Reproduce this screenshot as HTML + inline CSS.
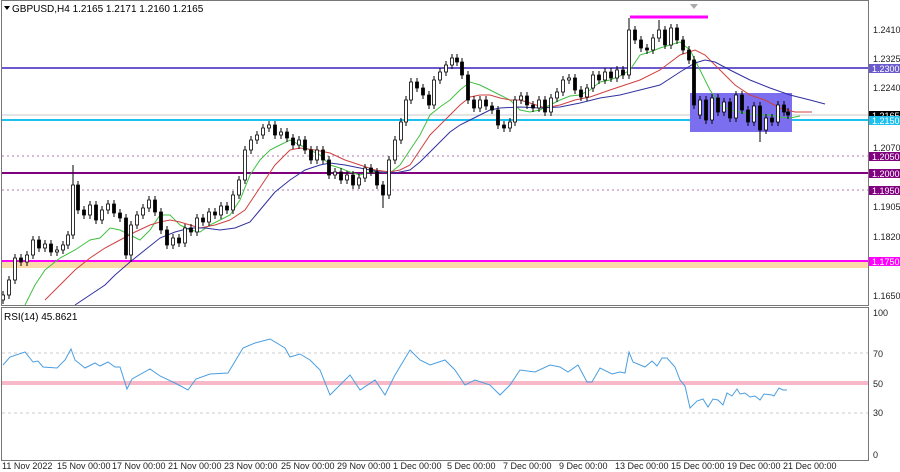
<!DOCTYPE html>
<html><head><meta charset="utf-8"><style>
html,body{margin:0;padding:0;background:#fff;}
svg{display:block;font-family:"Liberation Sans",sans-serif;}
</style></head><body>
<svg width="900" height="472" viewBox="0 0 900 472" xmlns="http://www.w3.org/2000/svg">
<rect width="900" height="472" fill="#fff"/>
<rect x="2" y="262" width="866" height="6" fill="#fbd9a8"/>
<line x1="2" y1="68" x2="868" y2="68" stroke="#6a5acd" stroke-width="2"/>
<line x1="2" y1="115" x2="868" y2="115" stroke="#c8c8c8" stroke-width="1"/>
<line x1="2" y1="120" x2="868" y2="120" stroke="#1ec0f0" stroke-width="2"/>
<line x1="2" y1="156" x2="868" y2="156" stroke="#b07ab0" stroke-width="1" stroke-dasharray="2,3"/>
<line x1="2" y1="173" x2="868" y2="173" stroke="#800080" stroke-width="2"/>
<line x1="2" y1="190" x2="868" y2="190" stroke="#b07ab0" stroke-width="1" stroke-dasharray="2,3"/>
<line x1="2" y1="261" x2="868" y2="261" stroke="#ff00ff" stroke-width="2"/>
<rect x="690" y="93" width="102" height="39" fill="#7b6ff0"/>
<line x1="630" y1="17" x2="708" y2="17" stroke="#ff00ff" stroke-width="3"/>
<polygon points="690,4 698,4 694,9" fill="#aaa"/>

<polyline fill="none" stroke="#40c040" stroke-width="1" points="25,305 35,285 45,270 60,258 75,250 90,240 100,238 110,228 120,230 130,235 140,240 150,230 160,215 170,215 180,225 190,230 200,232 210,225 220,220 230,215 240,200 250,175 260,160 270,150 280,145 290,140 300,145 310,150 320,155 330,165 340,168 350,172 360,175 370,172 380,172 390,173 400,165 410,150 420,135 430,115 440,107 450,100 460,90 470,82 480,85 490,90 500,95 510,100 520,110 530,112 540,110 550,105 560,100 570,96 580,95 590,90 600,82 610,80 620,76 630,70 640,55 650,52 660,48 670,45 680,42 690,50 700,70 710,90 720,105 730,110 740,112 750,114 760,115 770,115 780,117 790,118 800,116"/>
<polyline fill="none" stroke="#d04040" stroke-width="1" points="45,300 60,285 75,270 90,258 105,248 120,240 135,232 150,225 160,222 170,220 180,222 190,225 200,228 215,225 230,220 245,210 255,195 265,180 275,165 290,150 300,148 315,150 330,153 345,160 360,165 375,170 390,172 400,170 410,165 420,150 430,135 440,125 450,115 460,105 470,97 480,95 490,95 500,98 510,100 520,100 530,103 545,108 560,105 575,100 590,97 610,90 625,85 640,80 660,70 680,55 695,50 705,55 720,70 735,85 750,95 765,100 780,108 795,112 812,112"/>
<polyline fill="none" stroke="#3030a0" stroke-width="1" points="75,305 90,295 105,285 115,275 130,262 145,250 160,238 175,232 190,228 205,228 220,230 235,228 250,222 260,210 275,192 290,180 305,170 320,165 330,163 345,165 360,168 380,172 395,173 410,170 420,162 430,152 440,142 450,132 460,125 470,120 480,115 490,110 500,108 520,107 540,108 560,107 580,103 600,98 620,95 640,90 660,85 680,72 695,63 705,60 715,62 730,70 750,80 770,88 790,95 810,100 825,104"/>

<!-- wicks -->
<path fill="none" stroke="#000" stroke-width="1" d="M3 291V304M9 276V299M15 254V284M21 254V266M27 251V266M33 236V259M39 236V252M45 240V252M51 240V256M57 246V256M63 241V254M68 231V249M73 165V239M78 181V214M84 206V219M90 201V219M96 201V224M102 206V224M108 200V214M114 200V217M120 209V222M126 214V259M131 221V262M137 211V229M143 204V219M149 196V212M155 196V216M161 208V234M167 226V249M173 234V249M179 234V247M185 224V247M191 224V236M197 214V236M203 214V226M209 208V226M215 208V219M221 202V219M227 202V214M233 191V214M239 176V199M245 146V184M251 136V154M257 131V144M263 124V139M269 121V132M275 121V139M281 128V139M287 128V142M293 134V149M299 136V149M305 136V154M311 146V164M317 146V164M323 146V164M329 156V179M335 168V179M341 168V184M347 171V184M353 171V189M359 174V189M365 164V182M371 164V176M377 168V189M383 181V208M389 156V199M395 136V164M401 118V144M406 96V126M411 78V104M417 78V92M423 84V99M429 91V109M434 76V109M440 68V84M446 61V76M452 54V69M457 54V66M462 58V79M468 71V104M474 96V112M480 96V112M486 96V110M492 102V114M498 106V129M504 121V132M510 118V132M515 96V126M521 92V104M527 92V109M533 101V112M539 96V112M545 96V116M551 94V116M557 88V102M563 76V96M569 74V84M575 74V94M581 86V101M587 84V101M593 71V92M599 71V84M605 68V84M611 68V82M617 66V82M623 66V79M629 18V79M635 26V44M641 36V52M647 44V54M653 34V54M659 20V42M665 26V49M671 24V49M677 24V44M683 36V54M689 46V64M694 56V109M700 96V119M706 96V124M712 94V124M718 94V116M724 98V116M730 98V122M736 91V122M742 91V114M748 106V126M754 102V126M760 102V142M766 114V134M772 114V126M778 101V126M784 101V116M788 108V119"/>
<!-- bull (white) bodies -->
<path fill="#fff" stroke="#000" stroke-width="0.8" d="M1.5 295h3V300h-3ZM7.5 280h3V295h-3ZM13.5 258h3V280h-3ZM25.5 255h3V262h-3ZM31.5 240h3V255h-3ZM43.5 244h3V248h-3ZM55.5 250h3V252h-3ZM61.5 245h3V250h-3ZM66.5 235h3V245h-3ZM71.5 185h3V235h-3ZM88.5 205h3V215h-3ZM100.5 210h3V220h-3ZM106.5 204h3V210h-3ZM129.5 225h3V255h-3ZM135.5 215h3V225h-3ZM141.5 208h3V215h-3ZM147.5 200h3V208h-3ZM171.5 238h3V245h-3ZM183.5 228h3V243h-3ZM195.5 218h3V232h-3ZM207.5 212h3V222h-3ZM219.5 206h3V215h-3ZM231.5 195h3V210h-3ZM237.5 180h3V195h-3ZM243.5 150h3V180h-3ZM249.5 140h3V150h-3ZM255.5 135h3V140h-3ZM261.5 128h3V135h-3ZM267.5 125h3V128h-3ZM279.5 132h3V135h-3ZM297.5 140h3V145h-3ZM315.5 150h3V160h-3ZM333.5 172h3V175h-3ZM345.5 175h3V180h-3ZM357.5 178h3V185h-3ZM363.5 168h3V178h-3ZM387.5 160h3V195h-3ZM393.5 140h3V160h-3ZM399.5 122h3V140h-3ZM404.5 100h3V122h-3ZM409.5 82h3V100h-3ZM432.5 80h3V105h-3ZM438.5 72h3V80h-3ZM444.5 65h3V72h-3ZM450.5 58h3V65h-3ZM478.5 100h3V108h-3ZM508.5 122h3V128h-3ZM513.5 100h3V122h-3ZM519.5 96h3V100h-3ZM537.5 100h3V108h-3ZM549.5 98h3V112h-3ZM555.5 92h3V98h-3ZM561.5 80h3V92h-3ZM567.5 78h3V80h-3ZM585.5 88h3V97h-3ZM591.5 75h3V88h-3ZM603.5 72h3V80h-3ZM615.5 70h3V78h-3ZM627.5 30h3V75h-3ZM651.5 38h3V50h-3ZM657.5 30h3V38h-3ZM669.5 28h3V45h-3ZM698.5 100h3V115h-3ZM710.5 98h3V120h-3ZM722.5 102h3V112h-3ZM734.5 95h3V118h-3ZM752.5 106h3V122h-3ZM764.5 118h3V130h-3ZM776.5 105h3V122h-3Z"/>
<!-- bear (black) bodies -->
<path fill="#000" stroke="#000" stroke-width="0.8" d="M19.5 258h3V262h-3ZM37.5 240h3V248h-3ZM49.5 244h3V252h-3ZM76.5 185h3V210h-3ZM82.5 210h3V215h-3ZM94.5 205h3V220h-3ZM112.5 204h3V213h-3ZM118.5 213h3V218h-3ZM124.5 218h3V255h-3ZM153.5 200h3V212h-3ZM159.5 212h3V230h-3ZM165.5 230h3V245h-3ZM177.5 238h3V243h-3ZM189.5 228h3V232h-3ZM201.5 218h3V222h-3ZM213.5 212h3V215h-3ZM225.5 206h3V210h-3ZM273.5 125h3V135h-3ZM285.5 132h3V138h-3ZM291.5 138h3V145h-3ZM303.5 140h3V150h-3ZM309.5 150h3V160h-3ZM321.5 150h3V160h-3ZM327.5 160h3V175h-3ZM339.5 172h3V180h-3ZM351.5 175h3V185h-3ZM369.5 168h3V172h-3ZM375.5 172h3V185h-3ZM381.5 185h3V195h-3ZM415.5 82h3V88h-3ZM421.5 88h3V95h-3ZM427.5 95h3V105h-3ZM455.5 58h3V62h-3ZM460.5 62h3V75h-3ZM466.5 75h3V100h-3ZM472.5 100h3V108h-3ZM484.5 100h3V106h-3ZM490.5 106h3V110h-3ZM496.5 110h3V125h-3ZM502.5 125h3V128h-3ZM525.5 96h3V105h-3ZM531.5 105h3V108h-3ZM543.5 100h3V112h-3ZM573.5 78h3V90h-3ZM579.5 90h3V97h-3ZM597.5 75h3V80h-3ZM609.5 72h3V78h-3ZM621.5 70h3V75h-3ZM633.5 30h3V40h-3ZM639.5 40h3V48h-3ZM645.5 48h3V50h-3ZM663.5 30h3V45h-3ZM675.5 28h3V40h-3ZM681.5 40h3V50h-3ZM687.5 50h3V60h-3ZM692.5 60h3V105h-3ZM704.5 100h3V120h-3ZM716.5 98h3V112h-3ZM728.5 102h3V118h-3ZM740.5 95h3V110h-3ZM746.5 110h3V122h-3ZM758.5 106h3V130h-3ZM770.5 118h3V122h-3ZM782.5 105h3V112h-3ZM786.5 112h3V115h-3Z"/>

<!-- RSI -->
<line x1="2" y1="353" x2="868" y2="353" stroke="#ccc" stroke-dasharray="3,3"/>
<line x1="2" y1="413" x2="868" y2="413" stroke="#ccc" stroke-dasharray="3,3"/>
<rect x="2" y="381" width="866" height="4" fill="#f7b8c8"/>
<polyline fill="none" stroke="#4a9ee0" stroke-width="1" points="3,365 10,357 25,352 33,362 38,361 43,367 57,368 65,360 71,349 75,360 85,368 95,363 100,366 108,362 115,367 120,367 127,389 132,379 150,369 160,376 175,383 188,390 196,379 210,374 228,373 243,348 255,343 270,339 285,348 290,357 300,354 310,360 320,370 330,395 340,385 350,375 360,390 375,380 385,395 395,375 410,350 420,360 430,365 445,360 455,370 465,385 475,380 490,385 500,395 510,385 520,370 535,372 550,365 560,367 568,372 578,365 587,382 592,382 600,368 612,374 620,372 625,373 629,352 633,362 645,367 652,361 657,366 662,358 667,358 675,367 680,380 685,386 690,408 697,401 703,399 708,407 713,399 718,400 723,405 727,393 732,396 737,389 740,394 745,393 750,397 755,396 760,400 764,394 772,395 774,396 779,388 783,390 787,390"/>

<rect x="1.5" y="0.5" width="867" height="305" fill="none" stroke="#777"/>
<rect x="1.5" y="307.5" width="867" height="153" fill="none" stroke="#777"/>
<text x="12" y="12" font-size="10" fill="#000">GBPUSD,H4  1.2165 1.2171 1.2160 1.2165</text>
<polygon points="4,6 10,6 7,10" fill="#000"/>
<text x="4" y="320" font-size="10" fill="#000">RSI(14) 45.8621</text>
<g font-size="9" fill="#222">
<text x="873" y="33">1.2410</text>
<text x="873" y="62">1.2325</text>
<text x="873" y="91">1.2240</text>
<text x="873" y="151">1.2070</text>
<text x="873" y="210">1.1905</text>
<text x="873" y="240">1.1820</text>
<text x="873" y="299">1.1650</text>
<text x="873" y="316">100</text>
<text x="873" y="357">70</text>
<text x="873" y="387">50</text>
<text x="873" y="416">30</text>
<text x="873" y="458">0</text>
</g>
<g font-size="9" fill="#fff">
<rect x="869" y="64" width="31" height="9" fill="#6a5acd"/><text x="872" y="72">1.2300</text>
<rect x="869" y="111" width="31" height="9" fill="#000"/><text x="872" y="119">1.2165</text>
<rect x="869" y="116" width="31" height="9" fill="#1ec0f0"/><text x="872" y="124">1.2150</text>
<rect x="869" y="152" width="31" height="9" fill="#800080"/><text x="872" y="160">1.2050</text>
<rect x="869" y="169" width="31" height="9" fill="#800080"/><text x="872" y="177">1.2000</text>
<rect x="869" y="186" width="31" height="9" fill="#800080"/><text x="872" y="194">1.1950</text>
<rect x="869" y="257" width="31" height="9" fill="#ff00ff"/><text x="872" y="265">1.1750</text>
</g>
<g font-size="9" fill="#222">
<text x="2" y="469">11 Nov 2022</text>
<text x="57" y="469">15 Nov 00:00</text>
<text x="112" y="469">17 Nov 00:00</text>
<text x="168" y="469">21 Nov 00:00</text>
<text x="224" y="469">23 Nov 00:00</text>
<text x="281" y="469">25 Nov 00:00</text>
<text x="337" y="469">29 Nov 00:00</text>
<text x="393" y="469">1 Dec 00:00</text>
<text x="447" y="469">5 Dec 00:00</text>
<text x="503" y="469">7 Dec 00:00</text>
<text x="559" y="469">9 Dec 00:00</text>
<text x="615" y="469">13 Dec 00:00</text>
<text x="671" y="469">15 Dec 00:00</text>
<text x="727" y="469">19 Dec 00:00</text>
<text x="783" y="469">21 Dec 00:00</text>
</g>
</svg>
</body></html>
